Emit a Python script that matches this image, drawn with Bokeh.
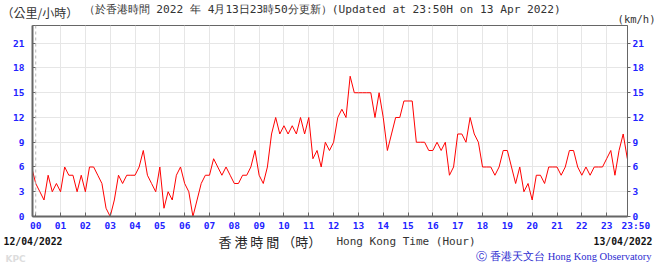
from bokeh.plotting import figure
from bokeh.layouts import column
from bokeh.models import LinearAxis, FixedTicker, Span, Range1d
from bokeh.core.properties import value
from bokeh.embed import file_html
from bokeh.resources import INLINE

# 10-minute samples of wind speed (km/h), from 23:50 on 12/04 to 23:50 on 13/04
minutes = list(range(-10, 1431, 10))
speed = [
    6, 4, 3, 2, 5, 3, 4, 3, 6, 5,
    5, 3, 5, 3, 6, 6, 5, 4, 1, 0,
    2, 5, 4, 5, 5, 5, 6, 8, 5, 4,
    3, 6, 1, 3, 2, 5, 6, 4, 3, 0,
    2, 4, 5, 5, 7, 6, 5, 6,
    5, 4, 4, 5, 5, 6, 8, 5, 4, 6,
    10, 12, 10, 11, 10, 11, 10, 12, 10, 12,
    7, 8, 6, 9, 8, 9, 12, 13, 12, 17,
    15, 15, 15, 15, 15, 12, 15, 12, 8, 10,
    12, 12, 14, 14, 14, 9, 9, 9, 8, 8,
    9, 8, 9, 5, 6, 10, 10, 9, 12, 10,
    9, 6, 6, 6, 5, 6, 8, 8, 6, 4,
    6, 3, 4, 2, 5, 5, 4, 6, 6, 6,
    5, 6, 8, 8, 6, 5, 6, 5, 6, 6,
    6, 7, 8, 5, 8, 10, 7,
]
hours = [m / 60 for m in minutes]

hour_ticks = list(range(0, 24)) + [23.83]
hour_labels = ["%02d" % h for h in range(0, 24)] + ["\u00a0\u00a0\u00a023:50"]
y_ticks = [0, 3, 6, 9, 12, 15, 18, 21]
y_labels = [str(v) for v in y_ticks]

title_cn = "（公里/小時）"
title_main = "（於香港時間 2022 年 4月13日23時50分更新）(Updated at 23:50H on 13 Apr 2022)"
unit_en = "(km/h)"
date_start = "12/04/2022"
date_end = "13/04/2022"
xlabel_cn = "香 港 時 間 （時）"
xlabel_en = "Hong Kong Time (Hour)"
credit = "Ⓒ 香港天文台 Hong Kong Observatory"
tag = "KPC"

W, H = 656, 266
FL, FR, FT, FB = 32, 627, 25, 217   # frame edges on the page
BOT = 233                           # where the footer band starts
X0, X1 = -0.13, 23.84
Y0, Y1 = 0, 23.15

TICK_FONT = "DejaVu Sans Mono"
TICK_COLOR = "#2323ff"


def band(top, bottom):
    f = figure(width=W, height=bottom - top, x_range=Range1d(0, W),
               y_range=Range1d(bottom, top), output_backend="svg",
               toolbar_location=None, x_axis_type=None, y_axis_type=None,
               min_border=0, min_border_left=0, min_border_right=0,
               min_border_top=0, min_border_bottom=0, frame_align=False)
    f.outline_line_color = None
    f.grid.visible = False
    f.background_fill_color = "white"
    f.border_fill_color = "white"
    return f


def txt(f, x, y, text, font, size, color="#333333", style="normal", align="left"):
    f.text(x=[x], y=[y], text=[text], text_font=value(font), text_font_size=value(size),
           text_color=color, text_font_style=style, text_align=align,
           text_baseline="middle")


# ---- top band
top = band(0, FT)
txt(top, 1, 12, title_cn, "Noto Sans CJK TC", "12px")
txt(top, 83, 9, title_main, "DejaVu Sans Mono", "11.2px")
txt(top, 655, 18, unit_en, "DejaVu Sans Mono", "10.5px", align="right")

# ---- main chart
p = figure(width=W, height=BOT - FT, x_range=Range1d(X0, X1), y_range=Range1d(Y0, Y1),
           output_backend="svg", toolbar_location=None,
           min_border_left=FL, min_border_right=W - FR,
           min_border_top=0, min_border_bottom=BOT - FB, frame_align=False)
p.background_fill_color = "white"
p.border_fill_color = "white"
p.outline_line_color = "#666666"
p.outline_line_width = 1

xa = p.xaxis[0]
xa.ticker = FixedTicker(ticks=hour_ticks)
xa.major_label_overrides = dict(zip(hour_ticks, hour_labels))
xa.major_tick_in = 4
xa.major_tick_out = 0
xa.minor_tick_line_color = None
xa.axis_line_color = "#666666"
xa.axis_line_width = 2
xa.major_tick_line_color = "#666666"
xa.major_label_text_font = TICK_FONT
xa.major_label_text_font_style = "bold"
xa.major_label_text_font_size = "9.5px"
xa.major_label_text_color = TICK_COLOR
xa.major_label_standoff = 3

ya = p.yaxis[0]
ya.ticker = FixedTicker(ticks=y_ticks)
ya.major_label_overrides = dict(zip(y_ticks, y_labels))
ya.major_tick_in = 3
ya.major_tick_out = 0
ya.minor_tick_line_color = None
ya.axis_line_color = "#666666"
ya.axis_line_width = 2
ya.major_tick_line_color = "#666666"
ya.major_label_text_font = TICK_FONT
ya.major_label_text_font_style = "bold"
ya.major_label_text_font_size = "9.5px"
ya.major_label_text_color = TICK_COLOR
ya.major_label_standoff = 8

ra = LinearAxis(ticker=FixedTicker(ticks=y_ticks))
ra.major_label_overrides = dict(zip(y_ticks, y_labels))
ra.major_tick_in = 0
ra.major_tick_out = 3
ra.minor_tick_line_color = None
ra.axis_line_color = "#666666"
ra.axis_line_width = 1
ra.major_tick_line_color = "#666666"
ra.major_label_text_font = TICK_FONT
ra.major_label_text_font_style = "bold"
ra.major_label_text_font_size = "9.5px"
ra.major_label_text_color = TICK_COLOR
ra.major_label_standoff = 2
p.add_layout(ra, "right")

p.xgrid.ticker = FixedTicker(ticks=list(range(1, 24)))
p.xgrid.grid_line_color = "#e6e6e6"
p.ygrid.ticker = FixedTicker(ticks=y_ticks[1:])
p.ygrid.grid_line_color = "#e6e6e6"
p.add_layout(Span(location=0, dimension="height", line_color="#b8b8b8",
                  line_dash="3 3", line_width=1))

p.line(hours, speed, line_color="#ff0000", line_width=1)

# ---- footer band
bot = band(BOT, H)
txt(bot, 3, 241, date_start, "DejaVu Sans Mono", "9.8px", "#111111", "bold")
txt(bot, 652, 241, date_end, "DejaVu Sans Mono", "9.8px", "#111111", "bold", align="right")
txt(bot, 218, 241, xlabel_cn, "Noto Sans CJK TC", "13px", "#222222")
txt(bot, 336, 241, xlabel_en, "DejaVu Sans Mono", "11px", "#333333")
txt(bot, 5, 258, tag, "DejaVu Sans", "9px", "#dddddd", "bold")
txt(bot, 651, 256, credit, "Liberation Serif", "10.5px", "#2b2bd0", align="right")

layout = column(top, p, bot, spacing=0)
open("out.html", "w").write(file_html(layout, INLINE))
